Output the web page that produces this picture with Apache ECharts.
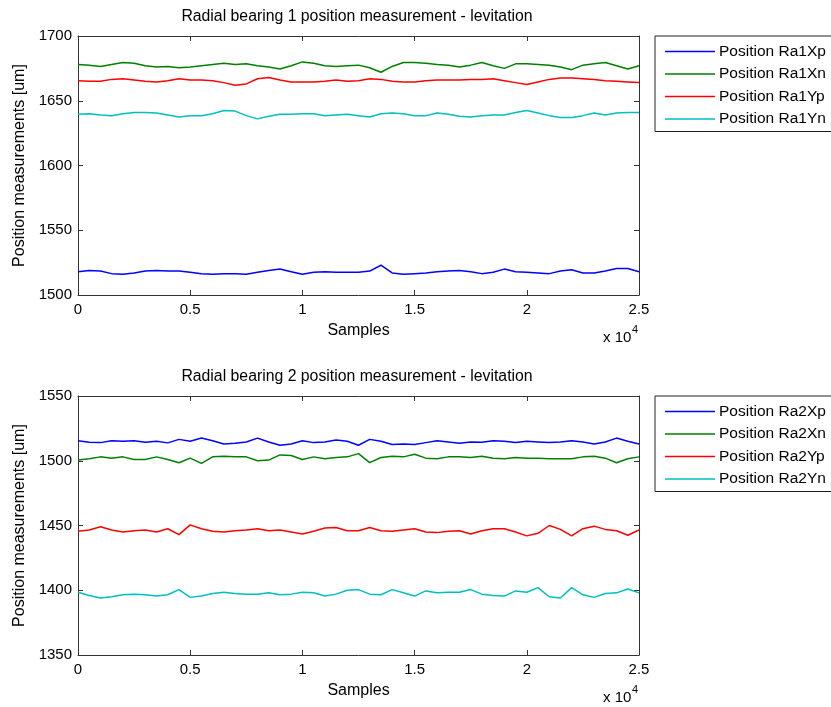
<!DOCTYPE html>
<html><head><meta charset="utf-8">
<script src="https://cdn.jsdelivr.net/npm/echarts@6/dist/echarts.min.js"></script>
<style>html,body{margin:0;padding:0;background:#fff}#c{width:831px;height:707px}</style>
</head><body><div id="c"></div>
<script>
// Sample positions (every 500 samples, 0..25000)
const samples = Array.from({length: 51}, (_, i) => i * 500);
const xTicks = ['0', '0.5', '1', '1.5', '2', '2.5'];

// Radial bearing 1
const ra1Xp = [1518,1519,1518.5,1516.5,1516,1517,1518.5,1519,1518.5,1518.5,
  1517.5,1516.5,1516,1516.5,1516.5,1516,1517.5,1519,1520,1518,
  1516,1517.5,1518,1517.5,1517.5,1517.5,1518.5,1523,1517,1516,
  1516.5,1517,1518,1518.5,1519,1518,1516.5,1517.5,1520,1518,
  1517.5,1517,1516.5,1518.5,1519.5,1517,1517,1518.5,1520.5,1520.5,1518];
const ra1Xn = [1678,1677.5,1676.5,1678,1679.5,1679,1677,1676,1676.5,1675.5,
  1676,1677,1678,1679,1678,1678.5,1677,1676,1674.5,1677,
  1680,1679,1677,1676.5,1677,1677.5,1675.5,1672,1676.5,1679.5,
  1679.5,1679,1678,1677.5,1676,1677.5,1679.5,1677,1675,1678.5,
  1678.5,1678,1677.5,1676,1674,1677.5,1678.5,1679.5,1677,1674.5,1677];
const ra1Yp = [1665.5,1665,1665,1666.5,1667,1666,1665,1664.5,1665.5,1667,
  1666,1666,1665.5,1664,1662,1663,1667,1668,1666,1664.5,
  1664.5,1664.5,1665,1666,1665,1665.5,1667,1666.5,1665,1664.5,
  1664.5,1665.5,1666,1666,1666,1666.5,1666.5,1667,1665.5,1664,
  1662.5,1664.5,1666.5,1667.5,1667.5,1667,1666.5,1665.5,1665,1664.5,1664];
const ra1Yn = [1639.5,1640,1639,1638.5,1640,1641,1641,1640.5,1639,1637.5,
  1638.5,1638.5,1640,1642.5,1642,1638.5,1636,1638,1639.5,1639.5,
  1640,1640,1638.5,1639,1639.5,1638.5,1637.5,1640,1640.5,1640,
  1638.5,1638.5,1640.5,1639.5,1638,1637.5,1638.5,1639,1639,1641,
  1642.5,1640.5,1638.5,1637,1637,1638.5,1640.5,1639,1640.5,1641,1641];

// Radial bearing 2
const ra2Xp = [1515.5,1514.2,1514,1515.5,1515,1515.5,1514.2,1515,1513.8,1516.5,
  1515,1517.5,1515.5,1513,1513.5,1514.5,1517.5,1514.5,1512,1513,
  1515.5,1514,1514.5,1516,1515,1512,1516.5,1515,1512.5,1513,
  1512.5,1514,1515.5,1514.5,1513.5,1514.5,1514.2,1515.5,1515,1514,
  1515,1514.5,1514,1514.5,1515.5,1514.5,1513,1514.5,1517.5,1515,1513];
const ra2Xn = [1500.5,1501.5,1503,1502,1503,1501,1501,1503,1501,1498.5,
  1502,1498,1503,1503.5,1503,1503,1500,1500.5,1504.5,1504,
  1501,1503,1501.5,1502.5,1503,1505.5,1498.5,1502.5,1503.5,1503,
  1505,1502,1501.5,1503,1503,1502.5,1503.5,1502,1501.5,1502.5,
  1502,1502,1501.5,1501.5,1501.5,1503,1503.5,1502,1498.5,1501.5,1503];
const ra2Yp = [1445.5,1446.5,1449,1446.5,1445,1446,1446.5,1445,1447.5,1443,
  1450.5,1447.5,1445.5,1445,1446,1446.5,1447.5,1446,1446.5,1445,
  1443.5,1445.5,1448,1448.5,1446,1446,1448.5,1446,1445.5,1446.5,
  1447.5,1445,1444.5,1445.5,1446,1443.5,1446,1447.5,1447.5,1445,
  1442,1444,1450,1447,1442,1447.5,1449.5,1447,1446,1442.5,1446.5];
const ra2Yn = [1398.5,1396,1394,1395,1396.5,1397,1396.5,1395.5,1396.5,1400.5,
  1394.5,1395.5,1397.5,1398.5,1397.5,1397,1397,1398,1396.5,1397,
  1398.5,1398,1395.5,1397,1400,1400.5,1397,1396.5,1400.5,1398,
  1395.5,1399.5,1398,1398.5,1398.5,1400.5,1397,1396,1395.5,1399.5,
  1398.5,1402,1395,1394,1402,1396.5,1394.5,1397.5,1398,1401,1398];

const names1 = ['Position Ra1Xp','Position Ra1Xn','Position Ra1Yp','Position Ra1Yn'];
const names2 = ['Position Ra2Xp','Position Ra2Xn','Position Ra2Yp','Position Ra2Yn'];
const colors = ['#0000FF','#008000','#FF0000','#00BFBF'];

const FONT = 'Liberation Sans, Arial, sans-serif';
const AX = '#333333';

function pairs(vals){ return vals.map((v,i)=>[samples[i], v]); }

function xAxes(gi){
  return [
    {gridIndex: gi, type:'value', min:0, max:25000, interval:5000, position:'bottom',
     axisLine:{show:true, onZero:false, lineStyle:{color:AX, width:1}},
     axisTick:{show:true, inside:true, length:5, lineStyle:{color:AX}},
     axisLabel:{show:true, margin:7, color:'#000', fontFamily:FONT, fontSize:15,
       formatter: v => xTicks[Math.round(v/5000)]},
     splitLine:{show:false},
     name:'Samples', nameLocation:'middle', nameGap:28,
     nameTextStyle:{color:'#000', fontFamily:FONT, fontSize:16}},
    {gridIndex: gi, type:'value', min:0, max:25000, interval:5000, position:'top',
     axisLine:{show:true, onZero:false, lineStyle:{color:AX, width:1}},
     axisTick:{show:true, inside:true, length:5, lineStyle:{color:AX}},
     axisLabel:{show:false}, splitLine:{show:false}}
  ];
}
function yAxes(gi, mn, mx){
  return [
    {gridIndex: gi, type:'value', min:mn, max:mx, interval:50, position:'left',
     axisLine:{show:true, onZero:false, lineStyle:{color:AX, width:1}},
     axisTick:{show:true, inside:true, length:5, lineStyle:{color:AX}},
     axisLabel:{show:true, margin:6, color:'#000', fontFamily:FONT, fontSize:15,
       formatter: v => String(v)},
     splitLine:{show:false},
     name:'Position measurements [um]', nameLocation:'middle', nameGap:41.5, nameRotate:90,
     nameTextStyle:{color:'#000', fontFamily:FONT, fontSize:16}},
    {gridIndex: gi, type:'value', min:mn, max:mx, interval:50, position:'right',
     axisLine:{show:true, onZero:false, lineStyle:{color:AX, width:1}},
     axisTick:{show:true, inside:true, length:5, lineStyle:{color:AX}},
     axisLabel:{show:false}, splitLine:{show:false}}
  ];
}

function mkSeries(names, datas, xi, yi){
  return names.map((n,i)=>({
    name:n, type:'line', xAxisIndex:xi, yAxisIndex:yi, data:pairs(datas[i]),
    symbol:'none', showSymbol:false, animation:false,
    lineStyle:{color:colors[i], width:1.5}, itemStyle:{color:colors[i]}
  }));
}

function legend(names, top){
  return {data:names, orient:'vertical', left:655, top:top, width:200,
    padding:[7.5,12,4.5,10], itemGap:6.5, itemWidth:50, itemHeight:1.6, icon:'rect',
    borderColor:'#222', borderWidth:1, backgroundColor:'#fff', borderRadius:0,
    textStyle:{color:'#000', fontFamily:FONT, fontSize:15.5, lineHeight:14, padding:[0,0,0,-1]},
    selectedMode:false};
}

const chart = echarts.init(document.getElementById('c'));
chart.setOption({
  backgroundColor:'#fff',
  animation:false,
  title:[
    {text:'Radial bearing 1 position measurement - levitation', left:357, top:9, textAlign:'center', padding:0,
     textStyle:{fontFamily:FONT, fontSize:15.8, fontWeight:'normal', color:'#000'}},
    {text:'Radial bearing 2 position measurement - levitation', left:357, top:369, textAlign:'center', padding:0,
     textStyle:{fontFamily:FONT, fontSize:15.8, fontWeight:'normal', color:'#000'}},
    {text:'x 10', left:603, top:330, padding:0, textStyle:{fontFamily:FONT, fontSize:15, fontWeight:'normal', color:'#000'}},
    {text:'4', left:632, top:324, padding:0, textStyle:{fontFamily:FONT, fontSize:11, fontWeight:'normal', color:'#000'}},
    {text:'x 10', left:603, top:690, padding:0, textStyle:{fontFamily:FONT, fontSize:15, fontWeight:'normal', color:'#000'}},
    {text:'4', left:632, top:684, padding:0, textStyle:{fontFamily:FONT, fontSize:11, fontWeight:'normal', color:'#000'}}
  ],
  legend:[legend(names1, 36), legend(names2, 396)],
  grid:[
    {left:78, top:36, width:561, height:259, containLabel:false},
    {left:78, top:396, width:561, height:259, containLabel:false}
  ],
  xAxis:[...xAxes(0), ...xAxes(1)],
  yAxis:[...yAxes(0,1500,1700), ...yAxes(1,1350,1550)],
  series:[
    ...mkSeries(names1, [ra1Xp, ra1Xn, ra1Yp, ra1Yn], 0, 0),
    ...mkSeries(names2, [ra2Xp, ra2Xn, ra2Yp, ra2Yn], 2, 2)
  ]
});
</script></body></html>
